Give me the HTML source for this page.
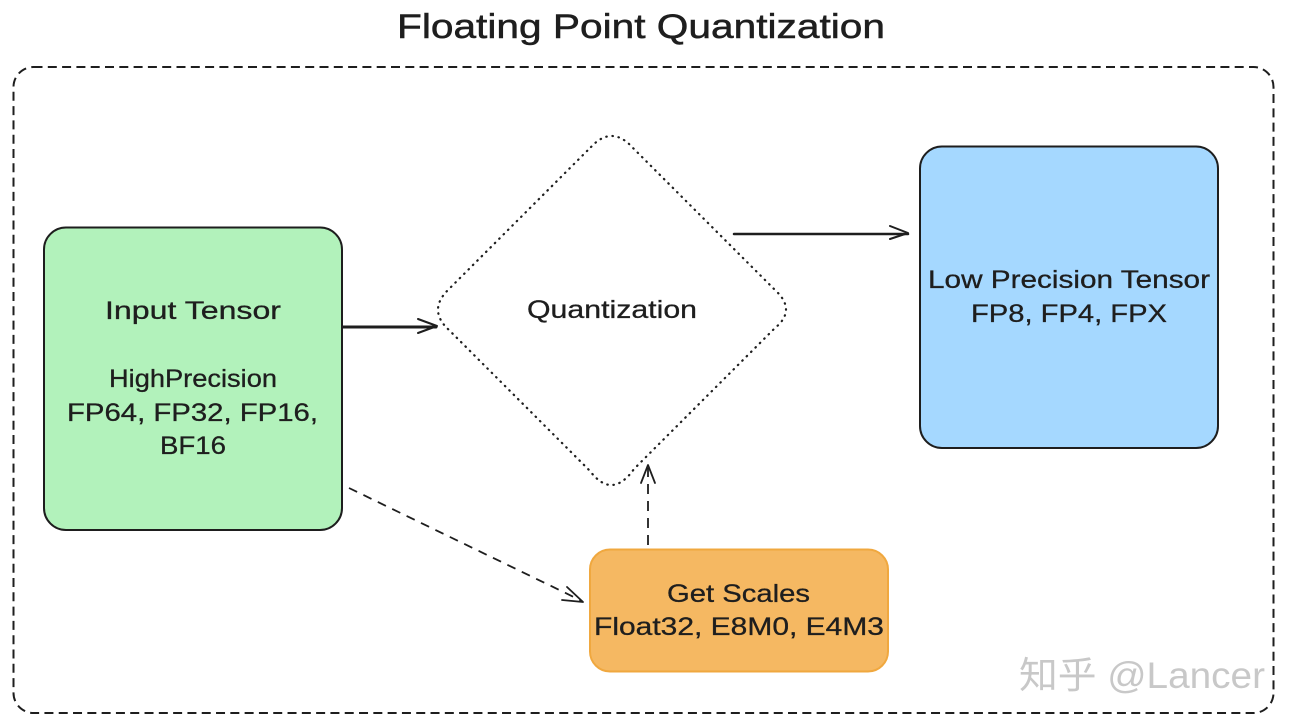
<!DOCTYPE html>
<html lang="en">
<head>
<meta charset="utf-8">
<title>Floating Point Quantization</title>
<style>
html,body{margin:0;padding:0;background:#fff;width:1298px;height:724px;overflow:hidden}
svg{display:block}
text{font-family:"Liberation Sans","Noto Sans CJK SC",sans-serif;fill:#1e1e1e}
</style>
</head>
<body>
<svg width="1298" height="724" viewBox="0 0 1298 724" xmlns="http://www.w3.org/2000/svg">
<rect width="1298" height="724" fill="#fff"/>
<!-- frame -->
<rect x="13.5" y="67" width="1260" height="646" rx="20" fill="none" stroke="#1e1e1e" stroke-width="2" stroke-dasharray="9 5.300"/>
<!-- nodes -->
<rect x="44" y="227.500" width="298" height="302.500" rx="22" fill="#b2f2bb" stroke="#1e1e1e" stroke-width="2"/>
<rect x="920" y="146.500" width="298" height="301.500" rx="22" fill="#a5d8ff" stroke="#1e1e1e" stroke-width="2"/>
<rect x="590" y="549.500" width="298" height="122" rx="20" fill="#f5b862" stroke="#f0a83f" stroke-width="2"/>
<path d="M591 147 Q612 124.500 633 148 L775 290 Q797 310 775 328 L634 469 Q612 500 590 471 L449 330 Q427 310 449 289 Z" fill="#fff" stroke="#1e1e1e" stroke-width="2.200" stroke-dasharray="0.500 5.700" stroke-linecap="round"/>
<!-- connectors -->
<g fill="none" stroke="#1e1e1e" stroke-linecap="round" stroke-linejoin="round">
<path d="M343 327 H436" stroke-width="3"/>
<path d="M418 319 L437 326 L418 333" stroke-width="2"/>
<path d="M734 234 H908" stroke-width="2.500"/>
<path d="M890 226 L908 233 L890 239" stroke-width="2"/>
<path d="M349 488 L582 601" stroke-width="1.800" stroke-dasharray="9 7" stroke-linecap="butt"/>
<path d="M567 587 L583 602 L562 600" stroke-width="1.800"/>
<path d="M648 545 V468" stroke-width="1.800" stroke-dasharray="10 7" stroke-linecap="butt"/>
<path d="M641 483 L648 465 L655 483" stroke-width="1.800"/>
</g>
<!-- labels -->
<text x="397" y="38" font-size="34" textLength="488" lengthAdjust="spacingAndGlyphs" stroke="#1e1e1e" stroke-width=".5">Floating Point Quantization</text>
<g stroke="#1e1e1e" stroke-width=".3">
<text x="105" y="319" font-size="25" textLength="176" lengthAdjust="spacingAndGlyphs">Input Tensor</text>
<text x="109" y="387" font-size="25" textLength="168" lengthAdjust="spacingAndGlyphs">HighPrecision</text>
<text x="67" y="421" font-size="25" textLength="251" lengthAdjust="spacingAndGlyphs">FP64, FP32, FP16,</text>
<text x="160" y="454" font-size="25" textLength="66" lengthAdjust="spacingAndGlyphs">BF16</text>
<text x="527" y="318" font-size="25" textLength="170" lengthAdjust="spacingAndGlyphs">Quantization</text>
<text x="928" y="288" font-size="25" textLength="282" lengthAdjust="spacingAndGlyphs">Low Precision Tensor</text>
<text x="971" y="322" font-size="25" textLength="196" lengthAdjust="spacingAndGlyphs">FP8, FP4, FPX</text>
<text x="667" y="602" font-size="25" textLength="143" lengthAdjust="spacingAndGlyphs">Get Scales</text>
<text x="594" y="635" font-size="25" textLength="290" lengthAdjust="spacingAndGlyphs">Float32, E8M0, E4M3</text>
</g>
<!-- watermark -->
<text x="1019" y="688" font-size="37" textLength="246" lengthAdjust="spacingAndGlyphs" style="fill:#c8c8c8">知乎 @Lancer</text>
</svg>
</body>
</html>
